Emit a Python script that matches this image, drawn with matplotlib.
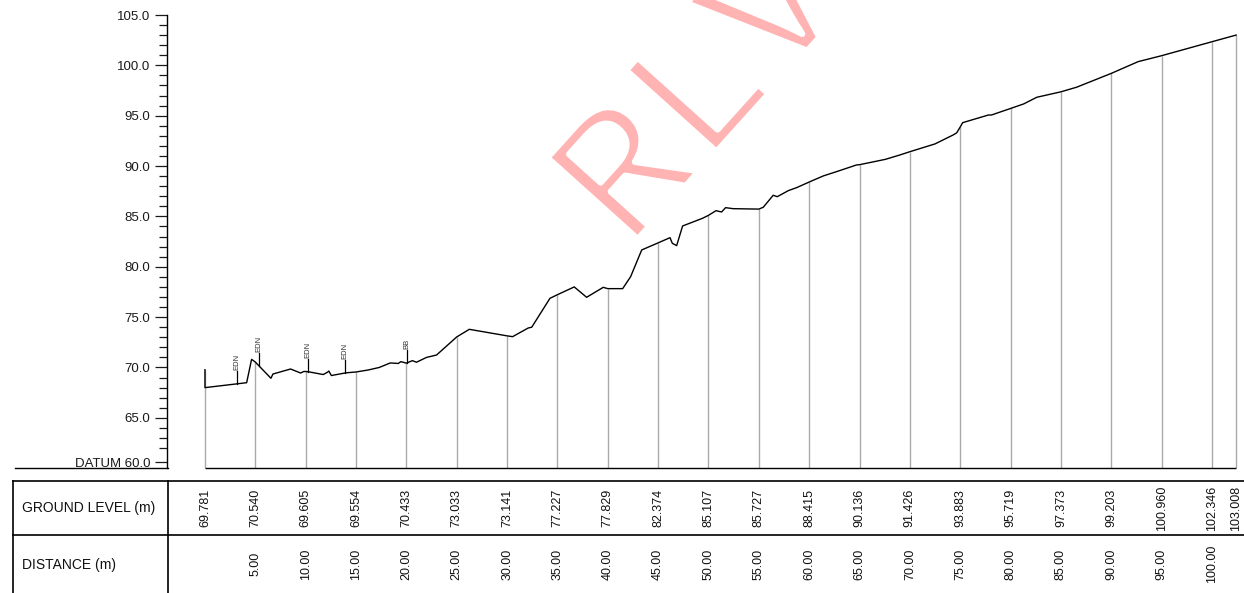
import numpy as np
import matplotlib
matplotlib.use('Agg')
import matplotlib.pyplot as plt
from matplotlib import font_manager
from matplotlib import patheffects
from matplotlib.transforms import blended_transform_factory

plt.rcParams['font.family'] = ['Liberation Sans', 'DejaVu Sans']

# stations along the section
station_dist = [0, 5, 10, 15, 20, 25, 30, 35, 40, 45, 50, 55, 60, 65, 70, 75,
                80, 85, 90, 95, 100, 102.4]
ground_level = [69.781, 70.540, 69.605, 69.554, 70.433, 73.033, 73.141, 77.227,
                77.829, 82.374, 85.107, 85.727, 88.415, 90.136, 91.426, 93.883,
                95.719, 97.373, 99.203, 100.960, 102.346, 103.008]
dist_labels = ['', '5.00', '10.00', '15.00', '20.00', '25.00', '30.00', '35.00',
               '40.00', '45.00', '50.00', '55.00', '60.00', '65.00', '70.00',
               '75.00', '80.00', '85.00', '90.00', '95.00', '100.00', '']

# surveyed ground profile
profile_dist = [0, 0, 4.14, 4.63, 5.0, 6.55, 6.75, 7.8, 8.5, 9.5, 9.8, 10.0, 10.4,
                11.75, 12.2, 12.3, 12.55, 14.0, 15.0, 16.2, 17.3, 18.4, 19.2,
                19.45, 20.0, 20.6, 21.0, 22.0, 23.0, 25.0, 26.25, 30.0, 30.55,
                32.1, 32.45, 34.26, 35.0, 36.67, 37.9, 39.55, 40.0, 41.48, 42.27,
                43.37, 45.0, 46.18, 46.41, 46.84, 47.43, 49.4, 50.0, 50.75, 51.3,
                51.7, 52.45, 55.0, 55.44, 56.43, 56.83, 57.93, 58.76, 60.0, 61.4,
                62.73, 64.7, 65.0, 67.58, 69.0, 70.0, 72.5, 74.3, 74.65, 75.0,
                75.24, 77.8, 78.1, 80.0, 81.3, 82.6, 85.0, 86.56, 90.0, 92.67,
                95.0, 100.0, 102.4]
profile_level = [69.78, 68.0, 68.49, 70.81, 70.54, 68.93, 69.35, 69.65, 69.85,
                 69.45, 69.6, 69.605, 69.55, 69.3, 69.55, 69.65, 69.2, 69.47,
                 69.554, 69.75, 70.0, 70.45, 70.4, 70.58, 70.433, 70.68, 70.52,
                 71.0, 71.24, 73.033, 73.79, 73.141, 73.06, 73.92, 74.0, 76.87,
                 77.227, 78.0, 76.97, 77.96, 77.829, 77.83, 79.02, 81.67, 82.374,
                 82.89, 82.33, 82.1, 84.05, 84.81, 85.107, 85.57, 85.44, 85.87,
                 85.77, 85.727, 85.91, 87.1, 86.96, 87.56, 87.86, 88.415, 89.02,
                 89.45, 90.11, 90.136, 90.67, 91.1, 91.426, 92.2, 93.09, 93.3,
                 93.883, 94.31, 95.07, 95.07, 95.719, 96.17, 96.83, 97.373, 97.83,
                 99.203, 100.37, 100.96, 102.346, 103.008]

# feature markers
marker_dist = [3.15, 5.36, 10.26, 13.87, 20.1]
marker_text = ['EDN', 'EDN', 'EDN', 'EDN', 'BB']

yticks_major = [60.6, 65, 70, 75, 80, 85, 90, 95, 100, 105]
yticks_labels = ['DATUM 60.0', '65.0', '70.0', '75.0', '80.0', '85.0', '90.0',
                 '95.0', '100.0', '105.0']
yticks_minor = [v for v in range(62, 105) if v % 5 != 0]

# courier-like font for the watermark, if there is one
installed = {f.name for f in font_manager.fontManager.ttflist}
mono = 'DejaVu Sans Mono'
for name in ['Liberation Mono', 'Nimbus Mono PS', 'FreeMono', 'Courier New']:
    if name in installed:
        mono = name
        break

W, H = 1244, 593
fig = plt.figure(figsize=(W / 100, H / 100), dpi=100)
ax = fig.add_axes([167.5 / W, (H - 468.2) / H, (W - 167.5) / W, (468.2 - 15) / H])
ax.set_xlim(-3.72, 103.18)
ax.set_ylim(60, 105)

for s in ['top', 'right', 'bottom']:
    ax.spines[s].set_visible(False)
ax.spines['left'].set_linewidth(1.0)
ax.set_xticks([])
ax.set_yticks(yticks_major, labels=yticks_labels)
ax.set_yticks(yticks_minor, minor=True)
ax.tick_params(axis='y', which='major', length=8.6, width=0.9, pad=3.6,
               labelsize=9.5, colors='#1a1a1a')
ax.tick_params(axis='y', which='minor', length=5.8, width=0.9, colors='#1a1a1a')

# station verticals and profile
ax.vlines(station_dist, 60, ground_level, color='#aaaaaa', lw=1.0, zorder=1)
ax.hlines(60, station_dist[0], station_dist[-1], color='black', lw=1.0, clip_on=False)
ax.plot(profile_dist, profile_level, color='black', lw=1.0, zorder=3)

for d, t in zip(marker_dist, marker_text):
    base = np.interp(d, profile_dist[1:], profile_level[1:])
    ax.plot([d, d], [base, base + 1.25], color='black', lw=0.9, zorder=3)
    ax.text(d, base + 1.4, t, rotation=90, ha='center', va='bottom',
            fontsize=5.5, color='#333333')

# overlay in pixel coordinates for the table band and watermark
ov = fig.add_axes([0, 0, 1, 1])
ov.set_xlim(0, W)
ov.set_ylim(H, 0)
ov.axis('off')

ov.plot([15, 168], [468.2, 468.2], color='black', lw=1.0)
ov.plot([13, W], [480.7, 480.7], color='black', lw=1.2)
ov.plot([13, W], [535, 535], color='black', lw=1.2)
ov.plot([13, 13], [480.7, H], color='black', lw=1.2)
ov.plot([168, 168], [480.7, H], color='black', lw=1.2)

ov.text(22, 508, 'GROUND LEVEL (m)', ha='left', va='center', fontsize=10, color='#111111')
ov.text(22, 565, 'DISTANCE (m)', ha='left', va='center', fontsize=10, color='#111111')

tr = blended_transform_factory(ax.transData, ov.transData)
for d, g, lab in zip(station_dist, ground_level, dist_labels):
    ov.text(d, 508, f'{g:.3f}', transform=tr, rotation=90, ha='center',
            va='center', fontsize=9, color='#111111')
    if lab:
        ov.text(d, 564, lab, transform=tr, rotation=90, ha='center',
                va='center', fontsize=9, color='#111111')

# watermark, thinned with a white edge, kept under the profile line
ax.text(628, 250, 'RLV', transform=ov.transData, rotation=48,
        rotation_mode='anchor', ha='left', va='baseline', fontsize=133,
        family=mono, color='#ffb3b3', zorder=2,
        path_effects=[patheffects.Normal(),
                      patheffects.Stroke(linewidth=4.5, foreground='white')])

fig.savefig('out.png', dpi=100)
